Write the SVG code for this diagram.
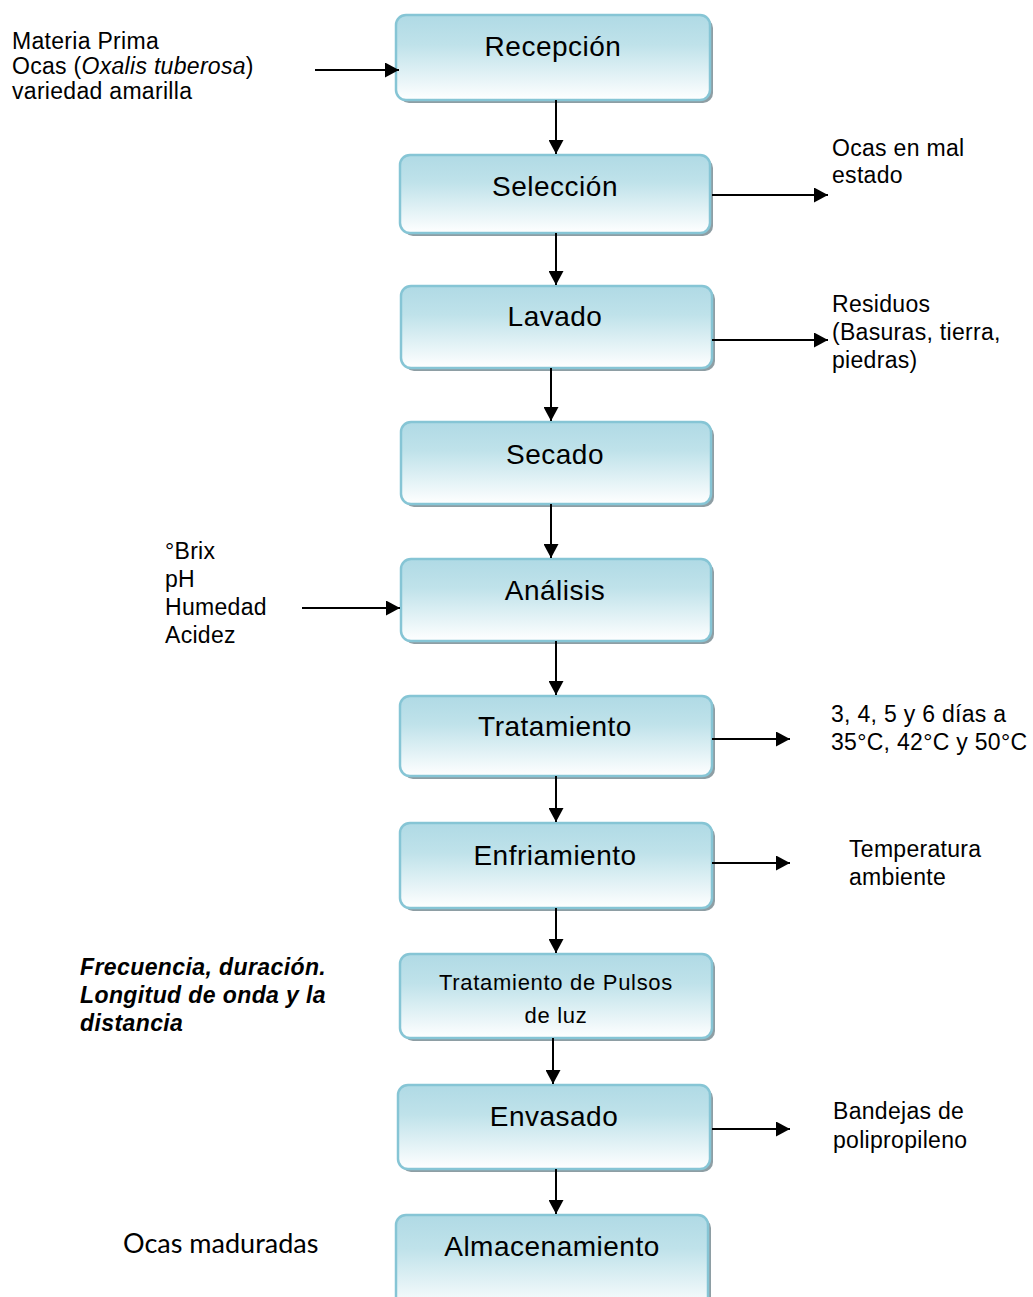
<svg xmlns="http://www.w3.org/2000/svg" width="1033" height="1297" viewBox="0 0 1033 1297">
<defs>
<linearGradient id="g" x1="0" y1="0" x2="0" y2="1">
<stop offset="0" stop-color="#b0dae5"/>
<stop offset="0.35" stop-color="#bfe2ea"/>
<stop offset="1" stop-color="#ffffff"/>
</linearGradient>
<marker id="ah" markerUnits="userSpaceOnUse" markerWidth="15" markerHeight="15" refX="14" refY="7.5" orient="auto">
<path d="M0,0 L14,7.5 L0,15 z" fill="#000"/>
</marker>
<style>
.box{fill:url(#g);stroke:#86c5d5;stroke-width:2.5}
.sh{fill:#8e9ea4}
.nt{font-family:"Liberation Sans",Arial,sans-serif;font-size:28px;letter-spacing:0.5px;text-anchor:middle;fill:#000}
.nt2{font-family:"Liberation Sans",Arial,sans-serif;font-size:22px;letter-spacing:0.7px;text-anchor:middle;fill:#000}
.st{font-family:"Liberation Sans",Arial,sans-serif;font-size:23px;letter-spacing:0.3px;fill:#000}
.bi{font-family:"Liberation Sans",Arial,sans-serif;font-size:23px;letter-spacing:0.4px;font-weight:bold;font-style:italic;fill:#000}
.cal{font-family:Lato,"Open Sans",sans-serif;font-size:27px;fill:#000}
.c{stroke:#000;stroke-width:2;fill:none;marker-end:url(#ah)}
</style>
</defs>
<rect width="1033" height="1297" fill="#fff"/>

<g id="recepcion">
<rect class="sh" x="399" y="18" width="314" height="85" rx="10"/>
<rect class="box" x="396" y="15" width="314" height="85" rx="10"/>
<text class="nt" x="553" y="56">Recepción</text>
</g>
<g id="seleccion">
<rect class="sh" x="403" y="158" width="310" height="78" rx="10"/>
<rect class="box" x="400" y="155" width="310" height="78" rx="10"/>
<text class="nt" x="555" y="196">Selección</text>
</g>
<g id="lavado">
<rect class="sh" x="404" y="289" width="311" height="82" rx="10"/>
<rect class="box" x="401" y="286" width="311" height="82" rx="10"/>
<text class="nt" x="555" y="326">Lavado</text>
</g>
<g id="secado">
<rect class="sh" x="404" y="425" width="310" height="82" rx="10"/>
<rect class="box" x="401" y="422" width="310" height="82" rx="10"/>
<text class="nt" x="555" y="464">Secado</text>
</g>
<g id="analisis">
<rect class="sh" x="404" y="562" width="310" height="82" rx="10"/>
<rect class="box" x="401" y="559" width="310" height="82" rx="10"/>
<text class="nt" x="555" y="600">Análisis</text>
</g>
<g id="tratamiento">
<rect class="sh" x="403" y="699" width="312" height="80" rx="10"/>
<rect class="box" x="400" y="696" width="312" height="80" rx="10"/>
<text class="nt" x="555" y="736">Tratamiento</text>
</g>
<g id="enfriamiento">
<rect class="sh" x="403" y="826" width="312" height="85" rx="10"/>
<rect class="box" x="400" y="823" width="312" height="85" rx="10"/>
<text class="nt" x="555" y="865">Enfriamiento</text>
</g>
<g id="pulsos">
<rect class="sh" x="403" y="957" width="312" height="84" rx="10"/>
<rect class="box" x="400" y="954" width="312" height="84" rx="10"/>
<text class="nt2" x="556" y="990">Tratamiento de Pulsos</text>
<text class="nt2" x="556" y="1023">de luz</text>
</g>
<g id="envasado">
<rect class="sh" x="401" y="1088" width="312" height="84" rx="10"/>
<rect class="box" x="398" y="1085" width="312" height="84" rx="10"/>
<text class="nt" x="554" y="1126">Envasado</text>
</g>
<g id="almacenamiento">
<rect class="sh" x="399" y="1218" width="312" height="96" rx="10"/>
<rect class="box" x="396" y="1215" width="312" height="96" rx="10"/>
<text class="nt" x="552" y="1256">Almacenamiento</text>
</g>

<g id="connectors">
<line class="c" x1="556" y1="100" x2="556" y2="154"/>
<line class="c" x1="556" y1="233" x2="556" y2="285"/>
<line class="c" x1="551" y1="368" x2="551" y2="421"/>
<line class="c" x1="551" y1="504" x2="551" y2="558"/>
<line class="c" x1="556" y1="641" x2="556" y2="695"/>
<line class="c" x1="556" y1="776" x2="556" y2="822"/>
<line class="c" x1="556" y1="908" x2="556" y2="953"/>
<line class="c" x1="553" y1="1038" x2="553" y2="1084"/>
<line class="c" x1="556" y1="1169" x2="556" y2="1214"/>
<line class="c" x1="315" y1="70" x2="399" y2="70"/>
<line class="c" x1="302" y1="608" x2="400" y2="608"/>
<line class="c" x1="712" y1="195" x2="828" y2="195"/>
<line class="c" x1="712" y1="340" x2="828" y2="340"/>
<line class="c" x1="712" y1="739" x2="790" y2="739"/>
<line class="c" x1="712" y1="863" x2="790" y2="863"/>
<line class="c" x1="712" y1="1129" x2="790" y2="1129"/>
</g>

<g id="labels">
<text class="st" x="12" y="49">Materia Prima</text>
<text class="st" x="12" y="74">Ocas (<tspan font-style="italic">Oxalis tuberosa</tspan>)</text>
<text class="st" x="12" y="99">variedad amarilla</text>
<text class="st" x="832" y="156">Ocas en mal</text>
<text class="st" x="832" y="183">estado</text>
<text class="st" x="832" y="312">Residuos</text>
<text class="st" x="832" y="340">(Basuras, tierra,</text>
<text class="st" x="832" y="368">piedras)</text>
<text class="st" x="165" y="559">°Brix</text>
<text class="st" x="165" y="587">pH</text>
<text class="st" x="165" y="615">Humedad</text>
<text class="st" x="165" y="643">Acidez</text>
<text class="st" x="831" y="722">3, 4, 5 y 6 días a</text>
<text class="st" x="831" y="750">35°C, 42°C y 50°C</text>
<text class="st" x="849" y="857">Temperatura</text>
<text class="st" x="849" y="885">ambiente</text>
<text class="st" x="833" y="1119">Bandejas de</text>
<text class="st" x="833" y="1148">polipropileno</text>
<text class="bi" x="80" y="975">Frecuencia, duración.</text>
<text class="bi" x="80" y="1003">Longitud de onda y la</text>
<text class="bi" x="80" y="1031">distancia</text>
<text class="cal" x="123" y="1253">Ocas maduradas</text>
</g>
</svg>
